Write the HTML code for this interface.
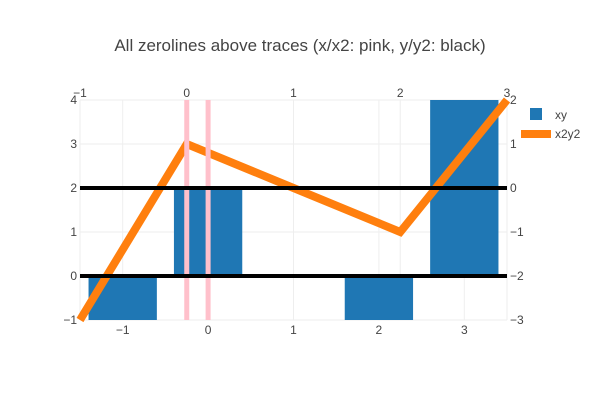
<!DOCTYPE html>
<html><head><meta charset="utf-8"><style>
body{margin:0;background:#fff;font-family:"Liberation Sans",sans-serif;}
svg text{font-family:"Liberation Sans",sans-serif;}
</style></head><body>
<svg id="chart" width="600" height="400" xmlns="http://www.w3.org/2000/svg">
<rect width="600" height="400" fill="#fff"/>
<text x="300" y="51" text-anchor="middle" font-size="17" fill="#444">All zerolines above traces (x/x2: pink, y/y2: black)</text>
<g id="grid"></g><g id="bars"></g><g id="line"></g><g id="zero"></g><g id="ticks"></g>
<g>
<rect x="530" y="108" width="12" height="12" fill="#1f77b4"/>
<text x="555" y="119" font-size="12" fill="#444">xy</text>
<line x1="521" y1="134" x2="551" y2="134" stroke="#ff7f0e" stroke-width="8"/>
<text x="555" y="138" font-size="12" fill="#444">x2y2</text>
</g>
</svg>
<script>
const barX=[-1,0,1,2,3];
const barY=[-1,2,0,-1,4];
const lineX=[-1,0,1,2,3];
const lineY=[-3,1,0,-1,2];
const xTicks=[-1,0,1,2,3];
const x2Ticks=[-1,0,1,2,3];
const yTicks=[-1,0,1,2,3,4];
const y2Ticks=[-3,-2,-1,0,1,2];
const L=80,R=507,T=100,B=320;
const sx=v=>L+(v+1.5)/5*(R-L);
const sx2=v=>L+(v+1)/4*(R-L);
const sy=v=>B-(v+1)/5*(B-T);
const sy2=v=>B-(v+3)/5*(B-T);
const NS="http://www.w3.org/2000/svg";
function mk(p,tag,a,txt){const e=document.createElementNS(NS,tag);for(const k in a)e.setAttribute(k,a[k]);if(txt!==undefined)e.textContent=txt;document.getElementById(p).appendChild(e);return e;}
const fmt=v=>v<0?'\u2212'+(-v):String(v);
xTicks.forEach(v=>{let g=mk('grid','line',{x1:sx(v),x2:sx(v),y1:T,y2:B,stroke:'#eee'});


let t=mk('ticks','text',{x:sx(v),y:334,'text-anchor':'middle','font-size':12,fill:'#444'},fmt(v));

});
x2Ticks.forEach(v=>{let g=mk('grid','line',{x1:sx2(v),x2:sx2(v),y1:T,y2:B,stroke:'#eee'});


let t=mk('ticks','text',{x:sx2(v),y:97,'text-anchor':'middle','font-size':12,fill:'#444'},fmt(v));

});
yTicks.forEach(v=>{let g=mk('grid','line',{x1:L,x2:R,y1:sy(v),y2:sy(v),stroke:'#eee'});


let t=mk('ticks','text',{x:77,y:sy(v)+4,'text-anchor':'end','font-size':12,fill:'#444'},fmt(v));

});
y2Ticks.forEach(v=>{let g=mk('grid','line',{x1:L,x2:R,y1:sy2(v),y2:sy2(v),stroke:'#eee'});


let t=mk('ticks','text',{x:510,y:sy2(v)+4,'text-anchor':'start','font-size':12,fill:'#444'},fmt(v));

});
barX.forEach((x,i)=>{const y=barY[i];const y0=sy(0),y1=sy(y);
let b=mk('bars','rect',{x:sx(x-0.4),width:sx(x+0.4)-sx(x-0.4),y:Math.min(y0,y1),height:Math.abs(y1-y0),fill:'#1f77b4'});

});
let ln=mk('line','polyline',{points:lineX.map((x,i)=>sx2(x)+','+sy2(lineY[i])).join(' '),fill:'none',stroke:'#ff7f0e','stroke-width':8,'stroke-linejoin':'miter'});


let z1=mk('zero','line',{x1:sx(0),x2:sx(0),y1:T,y2:B,stroke:'pink','stroke-width':5});


let z2=mk('zero','line',{x1:sx2(0),x2:sx2(0),y1:T,y2:B,stroke:'pink','stroke-width':5});


let z3=mk('zero','line',{x1:L,x2:R,y1:sy(0),y2:sy(0),stroke:'#000','stroke-width':4});


let z4=mk('zero','line',{x1:L,x2:R,y1:sy2(0),y2:sy2(0),stroke:'#000','stroke-width':4});


</script>
</body></html>
